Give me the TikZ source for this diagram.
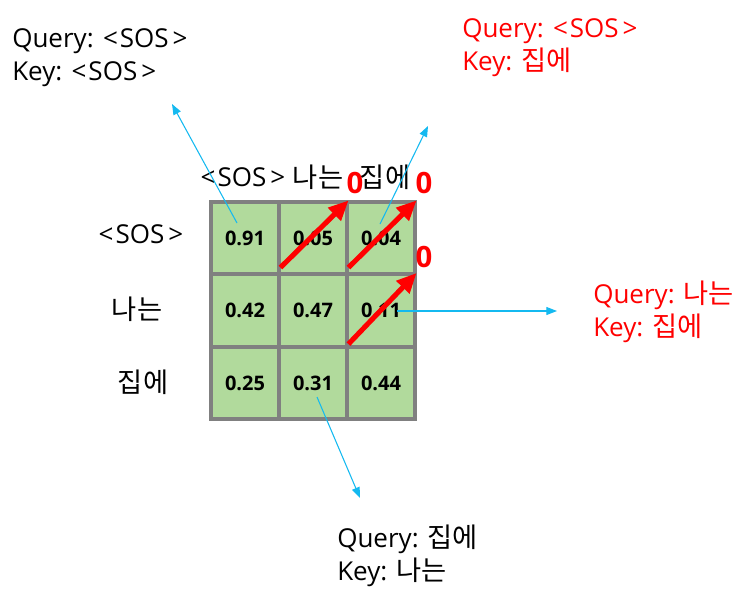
\documentclass[tikz,border=0pt]{standalone}
\usepackage{fontspec}
\setmainfont{Open Sans}
\newfontfamily\kr[Scale=1.05]{Noto Sans CJK KR}
\usetikzlibrary{arrows.meta, positioning, calc}
\definecolor{cellgreen}{RGB}{177,218,156}
\definecolor{cellgray}{RGB}{128,128,128}
\definecolor{linkblue}{RGB}{20,185,240}
\definecolor{maskred}{RGB}{255,0,0}
\newcommand{\sos}{<\hspace{1.5pt}SOS\hspace{3pt}>}

\begin{document}
\begin{tikzpicture}[x=0.75pt, y=-0.75pt,
  cell/.style={draw=cellgray, fill=cellgreen, line width=2.4pt, minimum width=51pt, minimum height=54pt, inner sep=0pt, font=\fontsize{15}{17}\selectfont\bfseries},
  tok/.style={inner sep=0pt, anchor=base, font=\fontsize{19.5}{22}\selectfont},
  info/.style={inner sep=0pt, anchor=north west, align=left, font=\fontsize{19.5}{24.75}\selectfont},
  zero/.style={inner sep=0pt, text=maskred, font=\fontsize{22}{24}\selectfont\bfseries},
  mask/.style={draw=maskred, line width=3.8pt, -{Triangle[length=15pt, width=13pt]}},
  link/.style={draw=linkblue, line width=0.8pt, -{Triangle[length=8pt, width=6pt]}}]
  \useasboundingbox (0,0) rectangle (753,597);

  % 3x3 score grid
  \node[cell] (c11) at (245,238) {0.91};
  \node[cell] (c12) at (313,238) {0.05};
  \node[cell] (c13) at (381,238) {0.04};
  \node[cell] (c21) at (245,310.5) {0.42};
  \node[cell] (c22) at (313,310.5) {0.47};
  \node[cell] (c23) at (381,310.5) {0.11};
  \node[cell] (c31) at (245,383) {0.25};
  \node[cell] (c32) at (313,383) {0.31};
  \node[cell] (c33) at (381,383) {0.44};

  % tokens
  \node[tok] (k1) at (243,186) {\sos};
  \node[tok] (k2) at (318,187) {\kr 나는};
  \node[tok] (k3) at (385,187) {\kr 집에};
  \node[tok] (q1) at (141,243) {\sos};
  \node[tok] (q2) at (137,319) {\kr 나는};
  \node[tok] (q3) at (143,392) {\kr 집에};

  % masked scores
  \draw[mask] ($(c12.south west)+(3,-8)$) -- (c12.north east);
  \draw[mask] ($(c13.south west)+(3,-8)$) -- (c13.north east);
  \draw[mask] ($(c23.south west)+(3,-4)$) -- (c23.north east);
  \node[zero] (z12) at (355,183) {0};
  \node[zero] (z13) at (424,183) {0};
  \node[zero] (z23) at (424,257) {0};

  % explanations
  \node[info] (e11) at (12,28) {Query:\hspace{7pt}\sos\\Key:\hspace{7pt}\sos};
  \node[info, text=maskred] (e13) at (462,18) {Query:\hspace{7pt}\sos\\Key: {\kr 집에}};
  \node[info, text=maskred] (e23) at (593,281) {Query: {\kr 나는}\\Key: {\kr 집에}};
  \node[info] (e32) at (337,525) {Query: {\kr 집에}\\Key: {\kr 나는}};

  \coordinate (s11) at (237,223);
  \coordinate (t11) at (172,104);
  \coordinate (s13) at (380,224);
  \coordinate (t13) at (428,126);
  \coordinate (s23) at (397,311);
  \coordinate (t23) at (557,311);
  \coordinate (s32) at (317,397);
  \coordinate (t32) at (360,498);
  \draw[link] (s11) -- (t11);
  \draw[link] (s13) -- (t13);
  \draw[link] (s23) -- (t23);
  \draw[link] (s32) -- (t32);
\end{tikzpicture}
\end{document}
